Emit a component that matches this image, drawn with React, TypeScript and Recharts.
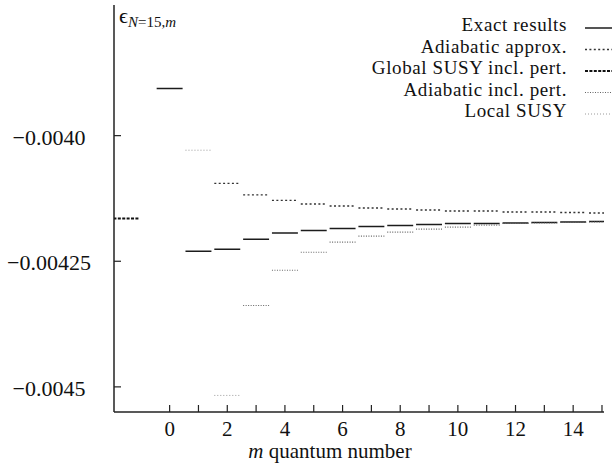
import React from "react";
import { ComposedChart, Line, XAxis, YAxis } from "recharts";

// m values and energies
const mExact = [0, 1, 2, 3, 4, 5, 6, 7, 8, 9, 10, 11, 12, 13, 14, 15];
const exactResults = [
  -0.003906, -0.00423, -0.004226, -0.004206, -0.004194, -0.004189, -0.004185, -0.004181,
  -0.004179, -0.004177, -0.004175, -0.004175, -0.004174, -0.004173, -0.004172, -0.004171,
];

const mAdiabatic = [2, 3, 4, 5, 6, 7, 8, 9, 10, 11, 12, 13, 14, 15];
const adiabaticApprox = [
  -0.004095, -0.004118, -0.004129, -0.004136, -0.00414, -0.004144, -0.004146, -0.004148,
  -0.00415, -0.00415, -0.004152, -0.004152, -0.004153, -0.004154,
];

const mGlobal = [-1.5];
const globalSusyPert = [-0.004165];

const mAdiabaticPert = [3, 4, 5, 6, 7, 8, 9, 10, 11, 12, 13, 14, 15];
const adiabaticPert = [
  -0.004338, -0.004268, -0.004232, -0.004212, -0.0042, -0.004192, -0.004186, -0.004182,
  -0.004178, -0.004175, -0.004174, -0.004173, -0.004172,
];

const mLocal = [1, 2];
const localSusy = [-0.004029, -0.004517];

const xTicks = [0, 1, 2, 3, 4, 5, 6, 7, 8, 9, 10, 11, 12, 13, 14, 15];
const yTicks = [-0.004, -0.00425, -0.0045];
const yTickLabels = ["\u22120.0040", "\u22120.00425", "\u22120.0045"];

const HALF = 0.45;
const FONT = "'Liberation Serif', 'DejaVu Serif', serif";

const SERIES = [
  { key: "exact", name: "Exact results", ms: mExact, vals: exactResults, stroke: "#1c1c1c", width: 1.5, dash: undefined },
  { key: "adiabatic", name: "Adiabatic approx.", ms: mAdiabatic, vals: adiabaticApprox, stroke: "#333", width: 1.3, dash: "2 2.4" },
  { key: "global", name: "Global SUSY incl. pert.", ms: mGlobal, vals: globalSusyPert, stroke: "#111", width: 2, dash: "3 1.4" },
  { key: "adiabaticPert", name: "Adiabatic incl. pert.", ms: mAdiabaticPert, vals: adiabaticPert, stroke: "#666", width: 1.1, dash: "1 1.5" },
  { key: "local", name: "Local SUSY", ms: mLocal, vals: localSusy, stroke: "#9a9a9a", width: 1, dash: "1 2" },
];

// each level is a short horizontal bar, broken by a null row
const rows: any[] = SERIES.flatMap((s) =>
  s.ms.flatMap((m, i) => [
    { m: m - HALF, [s.key]: s.vals[i] },
    { m: m + HALF, [s.key]: s.vals[i] },
    { m: m + HALF, [s.key]: null },
  ])
);

const XTick = (props: any) => {
  const { x, y, payload } = props;
  const v = payload.value;
  return (
    <g>
      <line x1={x} x2={x} y1={y - 7} y2={y} stroke="#222" strokeWidth={1.2} />
      {v % 2 === 0 && (
        <text x={x} y={y + 24} textAnchor="middle" fontFamily={FONT} fontSize={21} fill="#111">
          {v}
        </text>
      )}
    </g>
  );
};

const YTick = (props: any) => {
  const { x, y, payload } = props;
  const idx = yTicks.indexOf(payload.value);
  return (
    <g>
      <line x1={x} x2={x + 7} y1={y} y2={y} stroke="#222" strokeWidth={1.2} />
      <text x={49} y={y + 9} textAnchor="middle" fontFamily={FONT} fontSize={22} fill="#111">
        {yTickLabels[idx]}
      </text>
    </g>
  );
};

export default function App() {
  return (
    <div style={{ position: "absolute", left: 0, top: 0, width: 613, height: 464, background: "#fff" }}>
      <ComposedChart width={613} height={464} data={rows} margin={{ top: 5, right: 9, bottom: 22, left: 0 }}>
        <XAxis
          type="number"
          dataKey="m"
          domain={[-1.93, 15.07]}
          allowDataOverflow
          ticks={xTicks}
          interval={0}
          tickSize={0}
          tickMargin={0}
          tick={<XTick />}
          height={30}
          axisLine={{ stroke: "#222", strokeWidth: 1.3 }}
        />
        <YAxis
          type="number"
          domain={[-0.00455, -0.00374]}
          allowDataOverflow
          ticks={yTicks}
          interval={0}
          tickSize={0}
          tickMargin={0}
          tick={<YTick />}
          width={114}
          axisLine={{ stroke: "#222", strokeWidth: 1.5 }}
        />
        {SERIES.map((s) => (
          <Line
            key={s.key}
            dataKey={s.key}
            type="linear"
            stroke={s.stroke}
            strokeWidth={s.width}
            strokeDasharray={s.dash}
            dot={false}
            activeDot={false}
            connectNulls={false}
            isAnimationActive={false}
          />
        ))}
      </ComposedChart>
      <svg
        width={613}
        height={464}
        style={{ position: "absolute", left: 0, top: 0, pointerEvents: "none" }}
      >
        <text x={119} y={23} fontFamily={FONT} fontSize={22} fill="#111">
          {"\u03f5"}
          <tspan fontSize={15} dy={4} fontStyle="italic">N</tspan>
          <tspan fontSize={15}>=15,</tspan>
          <tspan fontSize={15} fontStyle="italic">m</tspan>
        </text>
        <text x={330} y={458} textAnchor="middle" fontFamily={FONT} fontSize={21} fill="#111">
          <tspan fontStyle="italic">m</tspan> quantum number
        </text>
        {SERIES.map((s, i) => {
          const by = 31 + i * 21.5;
          return (
            <g key={s.key}>
              <text
                x={567}
                y={by}
                textAnchor="end"
                fontFamily={FONT}
                fontSize={19}
                letterSpacing={0.6}
                fill="#111"
              >
                {s.name}
              </text>
              <line
                x1={585}
                x2={612}
                y1={by - 3}
                y2={by - 3}
                stroke={s.stroke}
                strokeWidth={s.width}
                strokeDasharray={s.dash}
              />
            </g>
          );
        })}
      </svg>
    </div>
  );
}
